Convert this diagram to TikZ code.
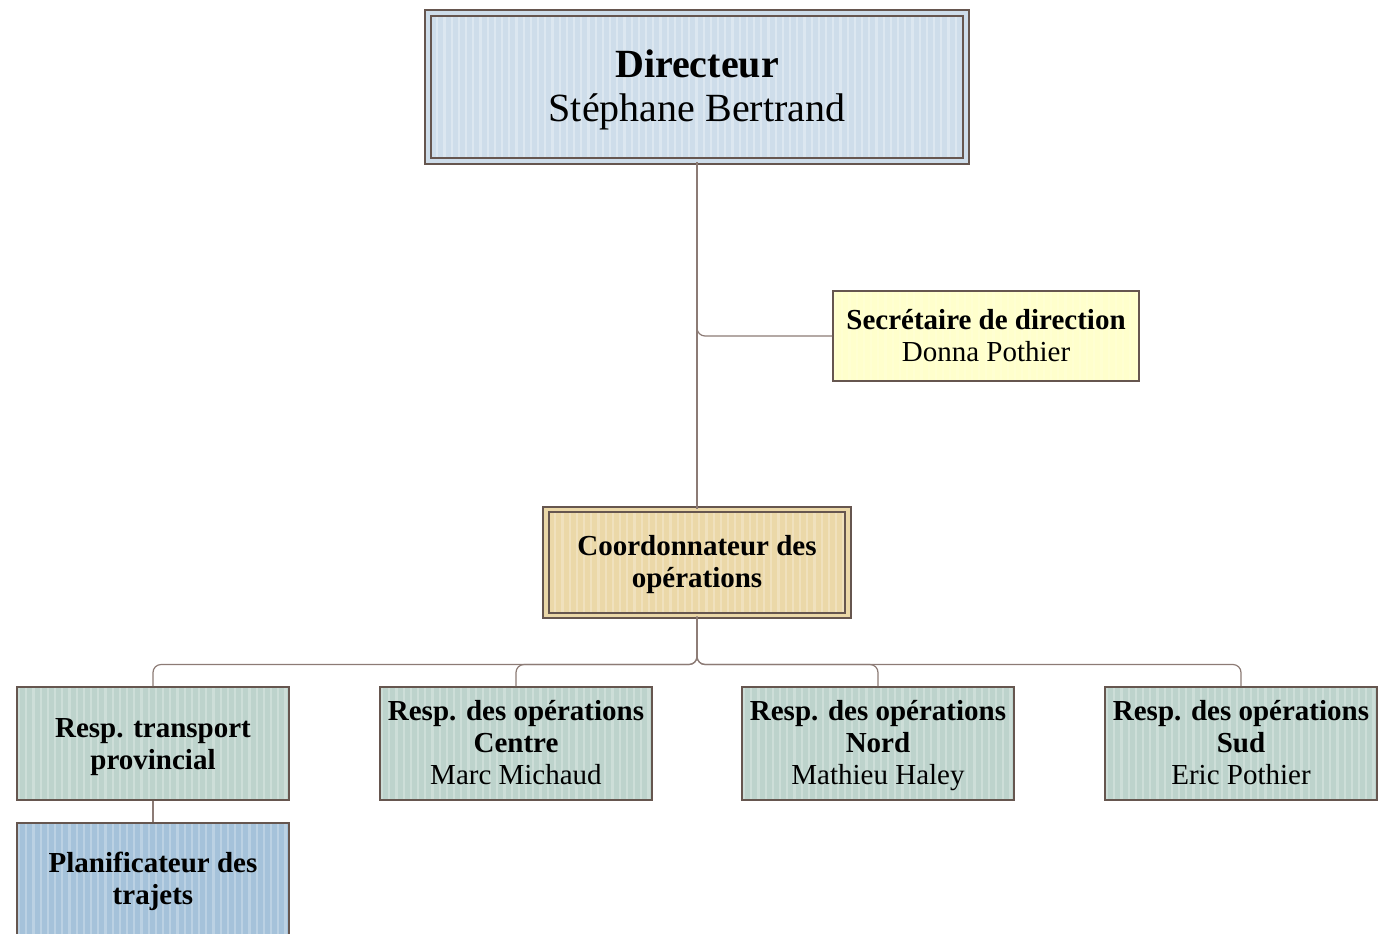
\documentclass[tikz,border=0pt]{standalone}
\usepackage{fontspec}
\setmainfont{Liberation Serif}
\usepackage{tikz}
\usetikzlibrary{positioning}

\definecolor{bordc}{HTML}{66564F}
\definecolor{linkc}{HTML}{8C7B75}
\definecolor{dirc}{HTML}{CEDDEA}
\definecolor{secc}{HTML}{FFFFCC}
\definecolor{coordc}{HTML}{EBD8A8}
\definecolor{respc}{HTML}{BDD3CC}
\definecolor{planc}{HTML}{A5C2DA}

\newcommand{\hstrut}[1]{\rule{0pt}{#1}}

\tikzset{
  stripes/.style={path picture={
    \foreach \i in {0,...,80}
      \draw[white, opacity=#1, line width=1.1pt]
        ([xshift=\i*3.6pt+1pt]path picture bounding box.south west) --
        ([xshift=\i*3.6pt+1pt]path picture bounding box.north west);
  }},
  orgbox/.style={draw=bordc, line width=1pt, align=center, inner sep=1pt,
    font=\fontsize{14.5}{16}\selectfont},
  dblbox/.style={orgbox, double=#1, double distance=1.6pt, line width=1pt, fill=#1},
  link/.style={draw=linkc, line width=0.6pt, rounded corners=4pt}
}

\begin{document}
\begin{tikzpicture}[x=0.5pt,y=0.5pt]
    \useasboundingbox (0,0) rectangle (1382,-933);
    % direction
    \node[dblbox=dirc, stripes=0.3, minimum width=269pt, minimum height=74pt,
      font=\fontsize{20}{22}\selectfont]
      (dir) at (697,-87) {\hstrut{17pt}\textbf{Directeur}\\Stéphane Bertrand};
    \node[orgbox, fill=secc, stripes=0.12, minimum width=153pt, minimum height=45pt]
      (sec) at (986,-336) {\hstrut{13pt}\textbf{Secrétaire de direction}\\Donna Pothier\vphantom{p}};
    \node[dblbox=coordc, stripes=0.25, minimum width=151pt, minimum height=53pt]
      (coord) at (697,-562.5) {\hstrut{12pt}\textbf{Coordonnateur des}\\\textbf{opérations}};
    % responsables
    \node[orgbox, fill=respc, stripes=0.25, minimum width=136pt, minimum height=56.5pt]
      (prov) at (153,-743.5) {\hstrut{13pt}\textbf{Resp. transport}\\\textbf{provincial}};
    \node[orgbox, fill=respc, stripes=0.25, minimum width=136pt, minimum height=56.5pt]
      (centre) at (516,-743.5) {\hstrut{12pt}\textbf{Resp. des opérations}\\\textbf{Centre}\\Marc Michaud\vphantom{p}};
    \node[orgbox, fill=respc, stripes=0.25, minimum width=136pt, minimum height=56.5pt]
      (nord) at (878,-743.5) {\hstrut{12pt}\textbf{Resp. des opérations}\\\textbf{Nord}\\Mathieu Haley};
    \node[orgbox, fill=respc, stripes=0.25, minimum width=136pt, minimum height=56.5pt]
      (sud) at (1241,-743.5) {\hstrut{12pt}\textbf{Resp. des opérations}\\\textbf{Sud}\\Eric Pothier\vphantom{p}};
    \node[orgbox, fill=planc, stripes=0.25, minimum width=136pt, minimum height=56.5pt]
      (plan) at (153,-879.5) {\hstrut{12pt}\textbf{Planificateur des}\\\textbf{trajets}};

    % liens
    \draw[link] (dir.south) -- (coord.north);
    \draw[link] (dir.south) |- (sec.west);
    \foreach \n in {prov,centre,nord,sud}
      \draw[link] (coord.south) -- ++(0,-48) -| (\n.north);
    \draw[link] (prov.south) -- (plan.north);
\end{tikzpicture}
\end{document}
